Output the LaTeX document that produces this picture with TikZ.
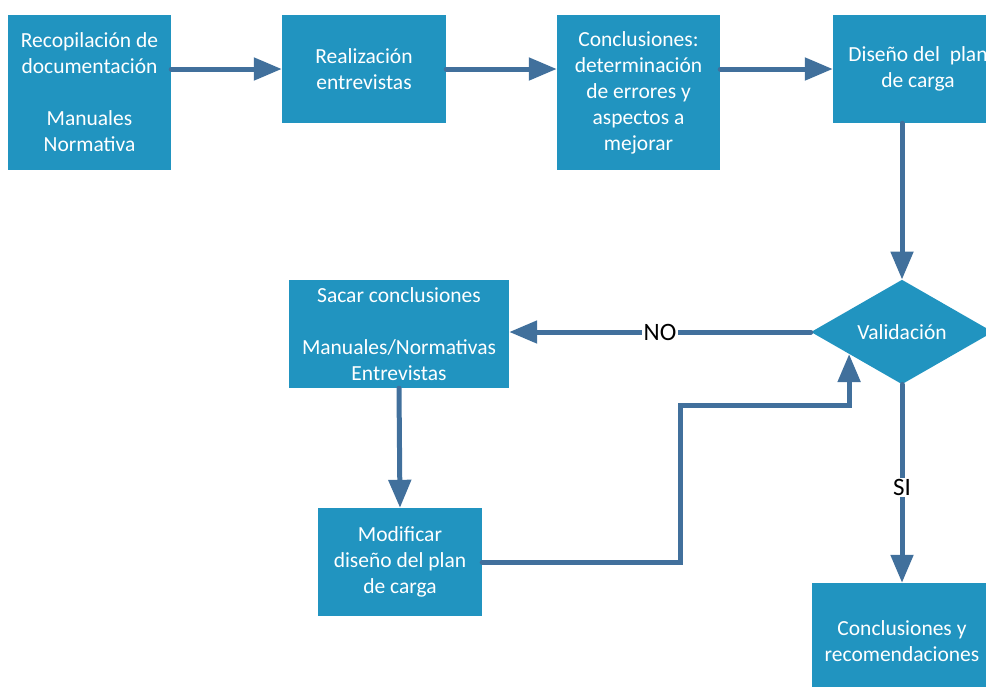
\documentclass[tikz,border=0pt]{standalone}
\usepackage{fontspec}
\setmainfont{Carlito}
\usetikzlibrary{shapes.geometric,arrows.meta,calc}
\definecolor{boxblue}{HTML}{2194C0}
\definecolor{arrowblue}{HTML}{41709C}
\begin{document}
\begin{tikzpicture}[x=1pt,y=-1pt,
  box/.style={fill=boxblue, draw=none, text=white, align=center, inner sep=0pt, font=\fontsize{21.5}{26}\selectfont},
  dia/.style={box, diamond},
  conn/.style={draw=arrowblue, line width=5pt, line cap=round, -{Triangle[length=28pt,width=22pt]}},
  lbl/.style={fill=white, text=black, font=\fontsize{25}{28}\selectfont, inner sep=1.5pt}]
\useasboundingbox (0,0) rectangle (986,686);
\clip (0,0) rectangle (986,686);
\node[box, minimum width=163pt, minimum height=155pt] (a) at (89.5,92.5) {Recopilación de\\documentación\\[26pt]Manuales\\Normativa};
\node[box, minimum width=164pt, minimum height=108pt] (b) at (364,69) {Realización\\entrevistas};
\node[box, minimum width=163pt, minimum height=155pt] (c) at (638.5,92.5) {Conclusiones:\\determinación\\de errores y\\aspectos a\\mejorar};
\node[box, minimum width=170pt, minimum height=108pt] (d) at (918,69) {Diseño del\ \ plan\\de carga};
\node[dia, minimum width=182pt, minimum height=102pt] (v) at (902,332) {Validación};
\node[box, minimum width=220pt, minimum height=108pt] (s) at (399,334) {Sacar conclusiones\\[26pt]Manuales/Normativas\\Entrevistas};
\node[box, minimum width=164pt, minimum height=108pt] (m) at (400,562) {Modificar\\diseño del plan\\de carga};
\node[box, minimum width=180pt, minimum height=116pt] (f) at (902,641) {Conclusiones y\\recomendaciones};
\coordinate (j1) at (680,405);
\coordinate (vt) at ($(v.west)!0.42!(v.south)$);
\draw[conn] (a.east |- b.west) -- (b.west);
\draw[conn] (b.east) -- (b.east -| c.west);
\draw[conn] (c.east |- d.west) -- (d.west);
\draw[conn] (d.south -| v.north) -- (v.north);
\draw[conn] (v.west) -- (v.west -| s.east) node[lbl, pos=0.5] {NO};
\draw[conn] (s.south) -- (m.north);
\draw[conn] (m.east) -| (j1) -| (vt);
\draw[conn] (v.south) -- (f.north) node[lbl, pos=0.52] {SI};
\end{tikzpicture}
\end{document}
